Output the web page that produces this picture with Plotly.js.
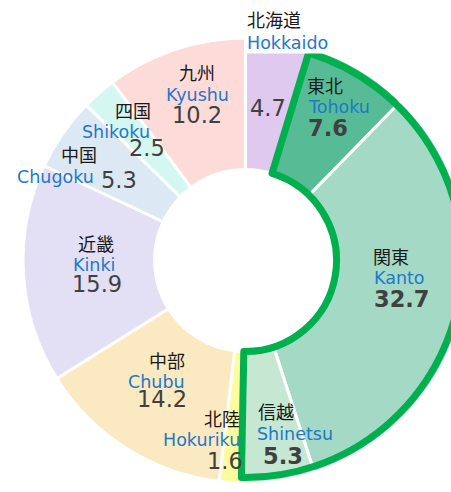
<!DOCTYPE html>
<html><head><meta charset="utf-8">
<script src="https://cdn.plot.ly/plotly-3.0.1.min.js"></script>
<style>
html,body{margin:0;padding:0;overflow:hidden;background:#fff;width:451px;height:492px}
#chart{width:491px;height:492px}
</style>
</head><body><div id="chart"></div>
<script>
// ---- data ----
const regionsJa = ['北海道','東北','関東','信越','北陸','中部','近畿','中国','四国','九州'];
const regionsEn = ['Hokkaido','Tohoku','Kanto','Shinetsu','Hokuriku','Chubu','Kinki','Chugoku','Shikoku','Kyushu'];
const shares = [4.7, 7.6, 32.7, 5.3, 1.6, 14.2, 15.9, 5.3, 2.5, 10.2];
const highlighted = [false, true, true, true, false, false, false, false, false, false];

// ---- styles ----
const sliceColors = ['#dfc9ef','#57bc95','#a4d9c5','#c6e7d2','#fffb9f','#fbe9c1','#e3e0f6','#dde8f5','#d5f7f1','#fcdbd9'];
const W = 491, H = 492;
const cy = 260.5, R = 222.5, Rin = 91, Rout = 217;

// label placement (pixel positions in the window), per region: jp, en, value, anchor
const labelPlace = [
  {jp:[246,19], en:[246,43], val:[249,108], a:'left', bg:true},
  {jp:[306,85], en:[307,107], val:[307,128], a:'left'},
  {jp:[372,256], en:[373,278], val:[373,299], a:'left'},
  {jp:[257,411], en:[256,434], val:[262,456], a:'right-x'},
  {jp:[241,418], en:[241,440], val:[244,461], a:'right'},
  {jp:[186,360], en:[186,382], val:[188,399], a:'right'},
  {jp:[96,243], en:[94,265], val:[97,284], a:'center'},
  {jp:[60,154], en:[16,177], val:[100,180], a:'left'},
  {jp:[114,110], en:[81,132], val:[128,148], a:'left'},
  {jp:[197,72], en:[197,95], val:[197,115], a:'center'}
];
labelPlace[3].a = 'left';

// outline grouping derived from data
let before = 0, group = 0, after = 0, seen = false;
shares.forEach((v,i)=>{ if(highlighted[i]){group+=v;seen=true;} else if(!seen){before+=v;} else {after+=v;} });

const main = {
  type:'pie', values:shares, labels:regionsEn, sort:false, direction:'clockwise', rotation:0,
  hole: Rin/R, textinfo:'none', hoverinfo:'skip', showlegend:false,
  marker:{colors:sliceColors, line:{color:'#ffffff', width:3}},
  domain:{x:[0,1], y:[(H-(cy+R))/H, 1-(cy-R)/H]}
};
const outline = {
  type:'pie', values:[before, group, after], labels:['o1','o2','o3'], sort:false, direction:'clockwise', rotation:0,
  hole: Rin/Rout, textinfo:'none', hoverinfo:'skip', showlegend:false,
  marker:{colors:['rgba(0,0,0,0)','rgba(0,0,0,0)','rgba(0,0,0,0)'], line:{color:'#00b04f', width:[0,7,0]}},
  domain:{x:[0,1], y:[(H-(cy+Rout))/H, 1-(cy-Rout)/H]}
};

const annotations = [];
const px = x => x/W, py = y => 1 - y/H;
regionsJa.forEach((name,i)=>{
  const p = labelPlace[i];
  annotations.push({text:name, x:px(p.jp[0]), y:py(p.jp[1]), xref:'paper', yref:'paper', xanchor:p.a, yanchor:'middle', showarrow:false, borderpad:0,
    font:{family:'Noto Sans CJK JP, sans-serif', size:18, color:'#1a1a1a'}});
  annotations.push({text:regionsEn[i], x:px(p.en[0]), y:py(p.en[1]), xref:'paper', yref:'paper', xanchor:p.a, yanchor:'middle', showarrow:false, borderpad:0,
    bgcolor: p.bg ? '#ffffff' : 'rgba(0,0,0,0)',
    font:{family:'DejaVu Sans, sans-serif', size:17.5, color:'#1f78c8'}});
  const v = shares[i].toFixed(1);
  annotations.push({text: highlighted[i] ? '<b>'+v+'</b>' : v, x:px(p.val[0]), y:py(p.val[1]), xref:'paper', yref:'paper', xanchor:p.a, yanchor:'middle', showarrow:false, borderpad:0,
    font:{family:'DejaVu Sans, sans-serif', size:22.5, color:'#404040'}});
});

Plotly.newPlot('chart', [main, outline], {
  width:W, height:H, margin:{l:0,r:0,t:0,b:0}, paper_bgcolor:'#ffffff', plot_bgcolor:'#ffffff',
  showlegend:false, annotations: annotations
}, {displayModeBar:false, staticPlot:true});
</script>
</body></html>
